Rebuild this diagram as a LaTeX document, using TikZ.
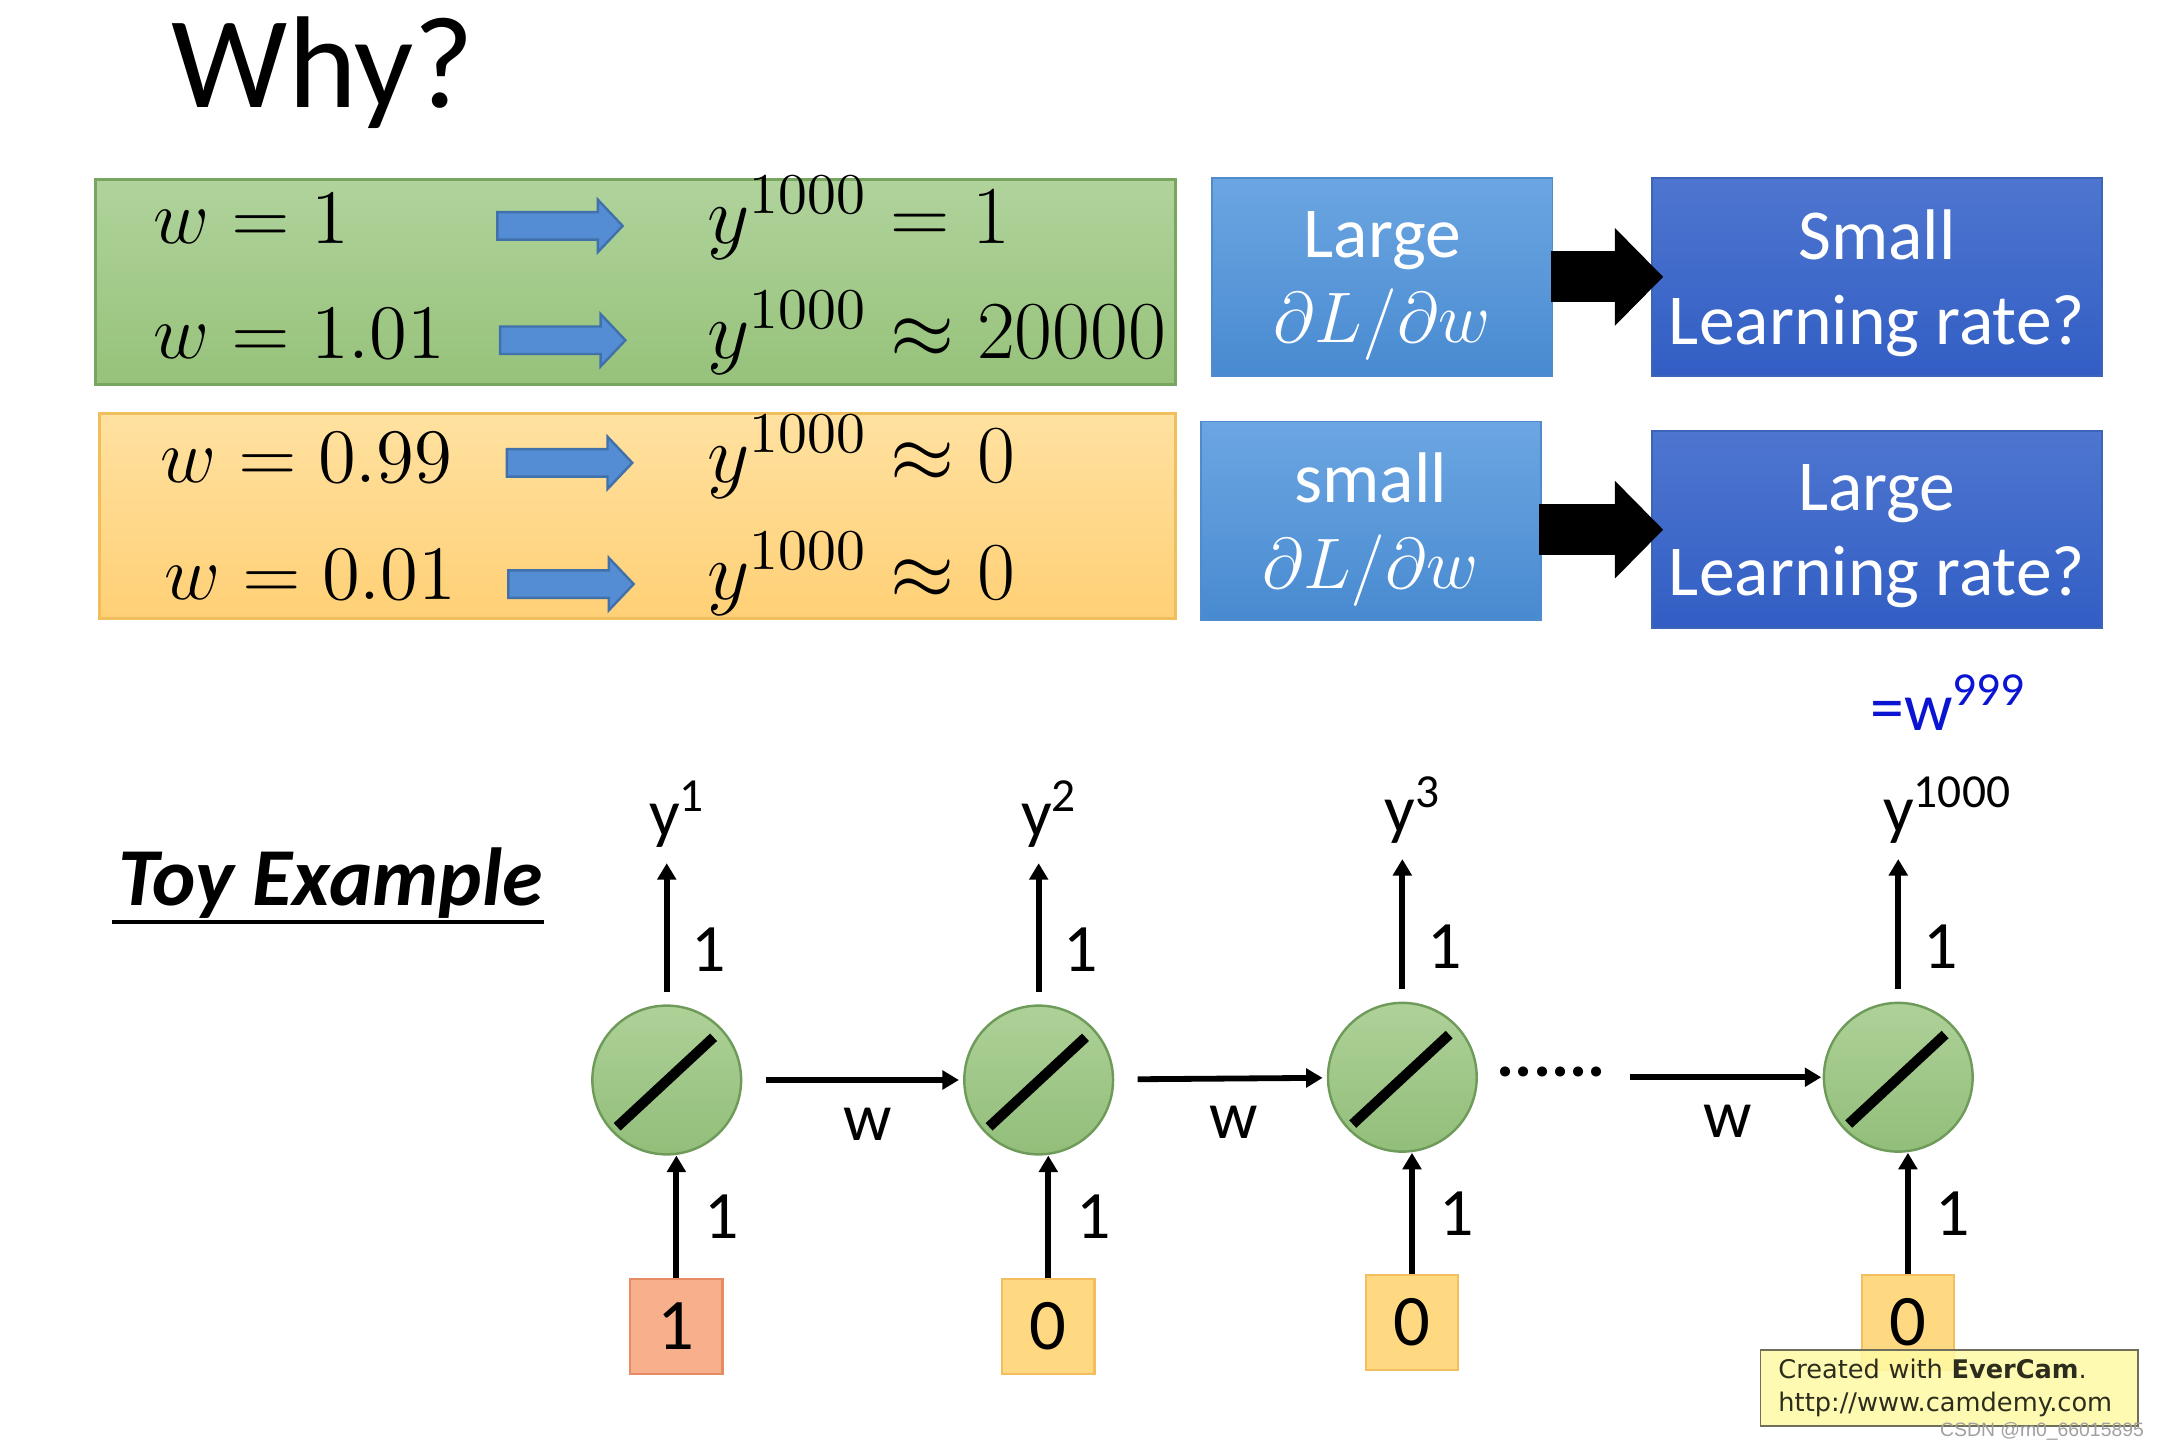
\RequirePackage{fix-cm}
\documentclass[tikz,border=0pt]{standalone}
\usepackage[no-math]{fontspec}
\usepackage{amsmath}
\setmainfont{Carlito}
\newfontfamily\wmfont{DejaVu Sans}
\newfontfamily\csdnfont{Liberation Sans}
\usetikzlibrary{positioning,arrows.meta}

\definecolor{greentop}{RGB}{176,211,156}
\definecolor{greenbot}{RGB}{150,194,122}
\definecolor{greenedge}{RGB}{120,165,95}
\definecolor{orangetop}{RGB}{255,225,160}
\definecolor{orangebot}{RGB}{255,208,118}
\definecolor{orangeedge}{RGB}{240,190,90}
\definecolor{arrowblue}{RGB}{84,141,212}
\definecolor{arrowedge}{RGB}{65,113,170}
\definecolor{lbtop}{RGB}{108,166,226}
\definecolor{lbbot}{RGB}{72,138,208}
\definecolor{lbedge}{RGB}{80,140,205}
\definecolor{dbtop}{RGB}{78,118,208}
\definecolor{dbbot}{RGB}{50,94,196}
\definecolor{dbedge}{RGB}{60,100,185}
\definecolor{neurtop}{RGB}{174,209,152}
\definecolor{neurbot}{RGB}{146,190,122}
\definecolor{neuredge}{RGB}{110,155,90}
\definecolor{xred}{RGB}{248,176,140}
\definecolor{xrededge}{RGB}{230,140,100}
\definecolor{xyellow}{RGB}{255,217,130}
\definecolor{xyellowedge}{RGB}{242,190,95}
\definecolor{wblue}{RGB}{10,20,210}
\definecolor{wmfill}{RGB}{255,250,165}
\definecolor{wmedge}{RGB}{110,110,90}
\definecolor{wmtext}{RGB}{45,45,30}
\definecolor{csdngray}{RGB}{160,160,160}

\begin{document}
\begin{tikzpicture}[x=0.1mm, y=-0.1mm, every node/.style={inner sep=0pt},
    panel/.style={rectangle, minimum height=14.9mm, line width=0.6pt},
    eq/.style={anchor=base west, font=\fontsize{15.9}{19}\selectfont},
    yeq/.style={eq, font=\fontsize{17}{20}\selectfont},
    lbox/.style={rectangle, minimum width=24.7mm, minimum height=14.4mm, top color=lbtop, bottom color=lbbot,
      draw=lbedge, text=white, align=center, text depth=0pt, font=\fontsize{14.8}{17.6}\selectfont},
    dbox/.style={lbox, minimum width=32.7mm, top color=dbtop, bottom color=dbbot, draw=dbedge},
    bigarrow/.style={line width=3.7mm, -{Triangle[length=3.5mm,width=7.1mm,line width=0pt]},
      shorten >=-0.9mm, shorten <=-0.2mm},
    pics/rowarrow/.style={code={
      \draw[draw=arrowedge, fill=arrowblue, line width=0.5pt]
        (-45,-10) -- (28,-10) -- (28,-19) -- (46,0) -- (28,19) -- (28,10) -- (-45,10) -- cycle;}},
    neuron/.style={circle, minimum size=10.8mm, draw=neuredge, line width=0.5pt, top color=neurtop, bottom color=neurbot},
    slash/.style={line width=2.1pt},
    inbox/.style={rectangle, minimum width=6.7mm, minimum height=6.9mm, line width=0.5pt,
      font=\fontsize{15}{18}\selectfont},
    lab/.style={font=\fontsize{14}{17}\selectfont},
    conn/.style={line width=1.2pt, -{Triangle[length=3.4pt,width=3.8pt]}}]

  \useasboundingbox (0,0) rectangle (1568,1050);
  \fill[white] (0,0) rectangle (1568,1050);

  \node[anchor=base west, font=\fontsize{27}{31}\selectfont] (why) at (124,78) {Why?};

  % w values and what y^1000 becomes
  \node[panel, top color=greentop, bottom color=greenbot, draw=greenedge, minimum width=78.4mm] (gbox) at (461,204.5) {};
  \node[panel, top color=orangetop, bottom color=orangebot, draw=orangeedge, minimum width=78.1mm] (obox) at (462.5,374.5) {};

  \node[eq] (wa) at (111,177) {$w=1$};
  \node[eq] (wb) at (111,260) {$w=1.01$};
  \node[eq] (wc) at (116,350) {$w=0.99$};
  \node[eq] (wd) at (119,435) {$w=0.01$};
  \node[yeq] (ya) at (513,177) {$y^{1000}=1$};
  \node[yeq] (yb) at (513,260) {$y^{1000}\approx 20000$};
  \node[yeq] (yc) at (513,350) {$y^{1000}\approx 0$};
  \node[yeq] (yd) at (513,435) {$y^{1000}\approx 0$};

  \pic at (406,164) {rowarrow};
  \pic at (408,247) {rowarrow};
  \pic at (413,336) {rowarrow};
  \pic at (414,424) {rowarrow};

  % gradient and learning rate
  \node[lbox] (lg1) at (1003.5,201) {Large\\$\partial L/\partial w$};
  \node[dbox] (sm1) at (1362.5,201) {Small\\Learning rate?};
  \node[lbox] (lg2) at (995,378) {small\\$\partial L/\partial w$};
  \node[dbox, minimum height=14.3mm] (sm2) at (1362.5,384.5) {Large\\Learning rate?};

  \draw[bigarrow] (lg1) -- (sm1);
  \draw[bigarrow] (lg2.east |- sm2) -- (sm2.west);

  \node[anchor=base west, text=wblue, font=\fontsize{14}{17}\selectfont] (wpow) at (1357,530) {=w\textsuperscript{999}};

  \node[anchor=base west, font=\fontsize{17}{20}\selectfont\bfseries\itshape] (toy) at (85,657) {Toy Example};
  \draw[line width=0.8pt] ([shift={(-4,12)}]toy.base west) -- ([shift={(0,12)}]toy.base east);

  % the chain
  \node[neuron] (c1) at (484,784) {};
  \node[neuron] (c2) at (754,784) {};
  \node[neuron] (c3) at (1018,782) {};
  \node[neuron] (c4) at (1378,782) {};

  \node[lab, anchor=base] (y1) at (492,607) {y\textsuperscript{1}};
  \node[lab, anchor=base] (y2) at (762,607) {y\textsuperscript{2}};
  \node[lab, anchor=base] (y3) at (1026,604) {y\textsuperscript{3}};
  \node[lab, anchor=base] (y4) at (1414,604) {y\textsuperscript{1000}};

  \node[inbox, fill=xred, draw=xrededge] (x1) at (491,963) {1};
  \node[inbox, fill=xyellow, draw=xyellowedge] (x2) at (761,963) {0};
  \node[inbox, fill=xyellow, draw=xyellowedge] (x3) at (1025,960) {0};
  \node[inbox, fill=xyellow, draw=xyellowedge] (x4) at (1385,960) {0};

  \node[lab] (dots) at (1126,778) {\textbf{......}};

  \foreach \i in {1,2,3,4}{
    \draw[slash] ([shift={(-36,34)}]c\i.center) -- ([shift={(34,-31)}]c\i.center);
    \draw[conn, shorten <=0.9mm, shorten >=1.1mm] (c\i.north) -- (c\i.north |- y\i.south)
      node[lab, pos=0.35, right=1.6mm] {1};
    \draw[conn] (x\i.north) -- (x\i.north |- c\i.south)
      node[lab, midway, right=1.8mm] {1};
  }

  \draw[conn, shorten <=1.7mm, shorten >=0.3mm] (c1) -- (c2) node[lab, pos=0.57, below=1.8mm] {w};
  \draw[conn, shorten <=1.7mm, shorten >=0.3mm] (c2) -- (c3) node[lab, pos=0.56, below=1.8mm] {w};
  \draw[conn, shorten <=1.7mm, shorten >=0.1mm] (dots.east |- c4) -- (c4) node[lab, pos=0.56, below=1.8mm] {w};

  % recorder watermark
  \node[draw=wmedge, fill=wmfill, fill opacity=0.85, text opacity=1, text=wmtext, text width=24.8mm,
    inner xsep=1.3mm, minimum height=5.5mm, align=left, font=\wmfont\fontsize{5.3}{6.8}\selectfont]
    (wm) at (1415,1007.5) {Created with \textbf{EverCam}.\\http://www.camdemy.com};
  \node[anchor=base east, text=csdngray, font=\csdnfont\fontsize{4}{5}\selectfont] (csdn) at (1557,1043) {CSDN @m0\_66015895};
\end{tikzpicture}
\end{document}
